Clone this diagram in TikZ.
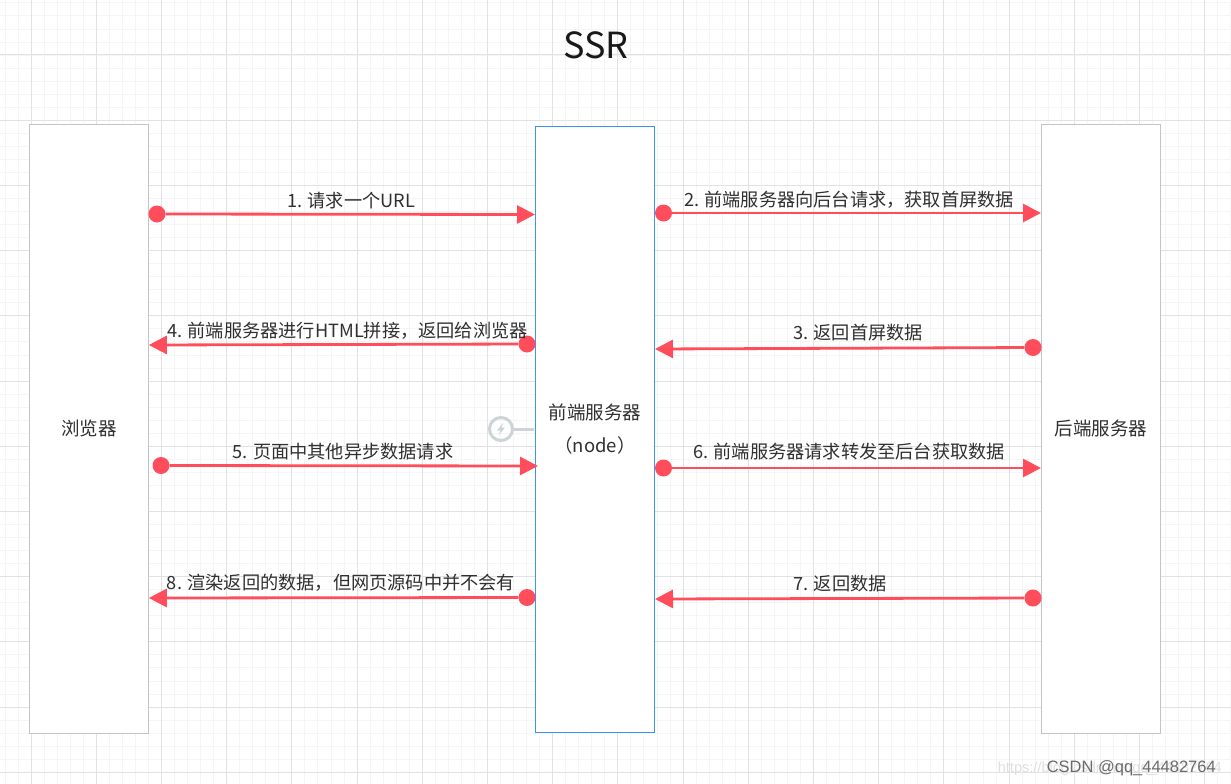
\documentclass[tikz,border=0pt]{standalone}
\usepackage{fontspec}
\setmainfont{Noto Sans CJK SC}
\newfontfamily\wmfont{Liberation Sans}
\usetikzlibrary{arrows.meta,calc}
\definecolor{redline}{HTML}{FF4D5B}
\definecolor{minorgrid}{HTML}{F5F5F5}
\definecolor{majorgrid}{HTML}{E2E2E2}
\definecolor{boxgray}{HTML}{C4C4C4}
\definecolor{boxblue}{HTML}{3A95EE}
\definecolor{txt}{HTML}{303030}
\definecolor{icon}{HTML}{CDD4D7}
\tikzset{
 lane/.style={draw=boxgray,fill=white,line width=1pt,minimum width=119pt,inner sep=0pt,anchor=north west,text=txt,font=\fontsize{18.5}{33}\selectfont,align=center},
 dot/.style={circle,fill=redline,minimum size=17pt,inner sep=0pt},
 flow/.style={draw=redline,line width=2.8pt,-{Triangle[length=18pt,width=18pt]},shorten >=0pt},
 lab/.style={text=txt,font=\fontsize{18.2}{20}\selectfont,inner sep=0pt,anchor=base},
}
\begin{document}
\begin{tikzpicture}[x=1pt,y=-1pt]
\useasboundingbox (0,0) rectangle (1231,784);
\fill[white] (0,0) rectangle (1231,784);
% grid
\foreach \i in {-2,...,95}{
  \pgfmathsetmacro\gx{31+13.04*\i}
  \draw[minorgrid,line width=.8pt] (\gx,0) -- (\gx,784);
}
\foreach \i in {-4,...,60}{
  \pgfmathsetmacro\gy{55+13.04*\i}
  \draw[minorgrid,line width=.8pt] (0,\gy) -- (1231,\gy);
}
\foreach \i in {0,...,18}{
  \pgfmathsetmacro\gx{31+65.2*\i}
  \draw[majorgrid,line width=1pt] (\gx,0) -- (\gx,784);
}
\foreach \i in {-1,...,11}{
  \pgfmathsetmacro\gy{55+65.2*\i}
  \draw[majorgrid,line width=1pt] (0,\gy) -- (1231,\gy);
}
\node[text=black!90,font=\fontsize{36}{40}\selectfont,inner sep=0pt] (title) at (596,45) {SSR};
% icon
\node[circle,draw=icon,line width=3pt,minimum size=23pt,inner sep=0pt] (ic) at (501,429) {};
\coordinate (icEnd) at (534,429);
\draw[icon,line width=3pt] (ic) -- (icEnd);
\fill[icon] (503.5,422.5) -- (497,430.5) -- (500.5,430.5) -- (498.5,435.5) -- (505,427.5) -- (501.5,427.5) -- cycle;
% lanes
\node[lane,minimum height=609pt] (browser) at (28.8,123.6) {浏览器};
\node[lane,draw=boxblue,minimum height=606pt] (front) at (535,125.6) {前端服务器\\（node）};
\node[lane,minimum height=609pt] (back) at (1041,123.6) {后端服务器};
% connectors
\node[dot] (d1) at (157,214) {};
\node[dot] (d2) at (663.5,213) {};
\node[dot] (d3) at (1033,347.5) {};
\node[dot] (d4) at (527,344) {};
\node[dot] (d5) at (161,465.5) {};
\node[dot] (d6) at (663.5,468) {};
\node[dot] (d7) at (1033,598) {};
\node[dot] (d8) at (527,597.5) {};
\coordinate (e1) at (front.west |- 0,214.5);
\coordinate (e2) at (back.west |- 0,213);
\coordinate (e3) at (front.east |- 0,349);
\coordinate (e4) at (browser.east |- 0,345);
\coordinate (e5) at ($(front.west |- 0,466)+(3,0)$);
\coordinate (e6) at (back.west |- 0,468);
\coordinate (e7) at (front.east |- 0,599);
\coordinate (e8) at (browser.east |- 0,598);
\foreach \k in {1,...,8}{ \draw[flow] (d\k) -- (e\k); }
% labels
\node[lab] (l1) at (351,207.3) {1. 请求一个URL};
\node[lab] (l2) at (849,206.3) {2. 前端服务器向后台请求，获取首屏数据};
\node[lab] (l3) at (858,339.3) {3. 返回首屏数据};
\node[lab] (l4) at (347.5,337.3) {4. 前端服务器进行HTML拼接，返回给浏览器};
\node[lab] (l5) at (343,458.3) {5. 页面中其他异步数据请求};
\node[lab] (l6) at (849,458.3) {6. 前端服务器请求转发至后台获取数据};
\node[lab] (l7) at (840,590.3) {7. 返回数据};
\node[lab] (l8) at (341,589.3) {8. 渲染返回的数据，但网页源码中并不会有};
% watermark
\node[text=black!12,font=\wmfont\fontsize{14.6}{20}\selectfont,inner sep=0pt,anchor=base east] (wm1) at (1222,772) {https://blog.csdn.net/qq\_44482764};
\node[text=black!58,font=\wmfont\fontsize{16.5}{20}\selectfont,inner sep=0pt,anchor=base east] (wm2) at (1216,772) {CSDN @qq\_44482764};
\end{tikzpicture}
\end{document}
